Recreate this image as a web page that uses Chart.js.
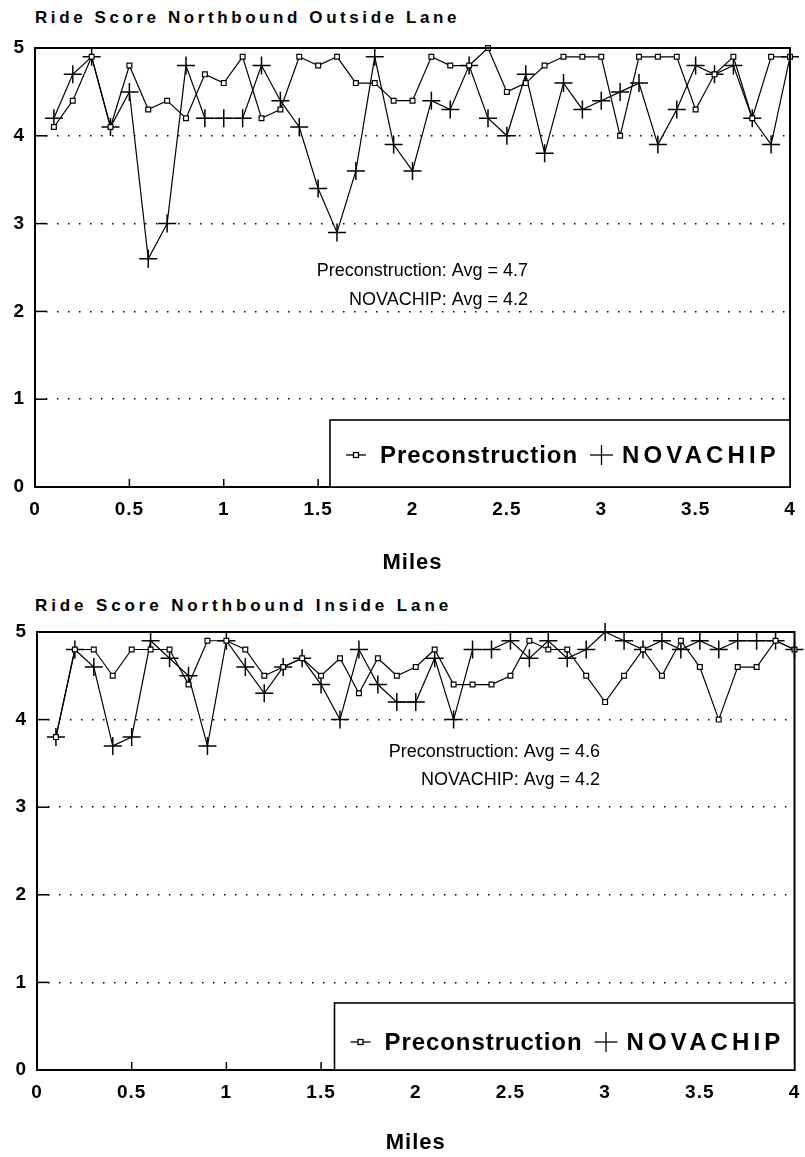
<!DOCTYPE html>
<html>
<head>
<meta charset="utf-8">
<script src="https://cdn.jsdelivr.net/npm/chart.js@4.4.1/dist/chart.umd.min.js"></script>
<style>
  body { margin: 0; background: #fff; width: 805px; height: 1157px; position: relative; overflow: hidden; }
  .title { position: absolute; left: 35px; font: bold 17px "Liberation Sans", Arial, sans-serif; color: #000; white-space: nowrap; }
  .wrap { position: absolute; left: 0; width: 805px; }
</style>
</head>
<body>
<div class="title" id="t1" style="top:8px">Ride Score Northbound Outside Lane</div>
<div class="wrap" style="top:0;height:580px"><canvas id="outside"></canvas></div>
<div class="title" id="t2" style="top:596px">Ride Score Northbound Inside Lane</div>
<div class="wrap" style="top:580px;height:577px"><canvas id="inside"></canvas></div>
<script>
// station miles (every 0.1 mi)
const miles = [0.1, 0.2, 0.3, 0.4, 0.5, 0.6, 0.7, 0.8, 0.9, 1.0,
  1.1, 1.2, 1.3, 1.4, 1.5, 1.6, 1.7, 1.8, 1.9, 2.0,
  2.1, 2.2, 2.3, 2.4, 2.5, 2.6, 2.7, 2.8, 2.9, 3.0,
  3.1, 3.2, 3.3, 3.4, 3.5, 3.6, 3.7, 3.8, 3.9, 4.0]

// outside lane
const outsidePre = [4.1, 4.4, 4.9, 4.1, 4.8, 4.3, 4.4, 4.2, 4.7, 4.6,
  4.9, 4.2, 4.3, 4.9, 4.8, 4.9, 4.6, 4.6, 4.4, 4.4,
  4.9, 4.8, 4.8, 5.0, 4.5, 4.6, 4.8, 4.9, 4.9, 4.9,
  4.0, 4.9, 4.9, 4.9, 4.3, 4.7, 4.9, 4.2, 4.9, 4.9]
const outsideNova = [4.2, 4.7, 4.9, 4.1, 4.5, 2.6, 3.0, 4.8, 4.2, 4.2,
  4.2, 4.8, 4.4, 4.1, 3.4, 2.9, 3.6, 4.9, 3.9, 3.6,
  4.4, 4.3, 4.8, 4.2, 4.0, 4.7, 3.8, 4.6, 4.3, 4.4,
  4.5, 4.6, 3.9, 4.3, 4.8, 4.7, 4.8, 4.2, 3.9, 4.9]

// inside lane
const insidePre = [3.8, 4.8, 4.8, 4.5, 4.8, 4.8, 4.8, 4.4, 4.9, 4.9,
  4.8, 4.5, 4.6, 4.7, 4.5, 4.7, 4.3, 4.7, 4.5, 4.6,
  4.8, 4.4, 4.4, 4.4, 4.5, 4.9, 4.8, 4.8, 4.5, 4.2,
  4.5, 4.8, 4.5, 4.9, 4.6, 4.0, 4.6, 4.6, 4.9, 4.8]
const insideNova = [3.8, 4.8, 4.6, 3.7, 3.8, 4.9, 4.7, 4.5, 3.7, 4.9,
  4.6, 4.3, 4.6, 4.7, 4.4, 4.0, 4.8, 4.4, 4.2, 4.2,
  4.7, 4.0, 4.8, 4.8, 4.9, 4.7, 4.9, 4.7, 4.8, 5.0,
  4.9, 4.8, 4.9, 4.8, 4.9, 4.8, 4.9, 4.9, 4.9, 4.8]

const seriesNames = ['Preconstruction', 'NOVACHIP']
const outsideNotes = ['Preconstruction: Avg = 4.7', 'NOVACHIP: Avg = 4.2']
const insideNotes = ['Preconstruction: Avg = 4.6', 'NOVACHIP: Avg = 4.2']

const FONT = '"Liberation Sans", Arial, sans-serif'

// stretch title text to the width it has in the scan
function spreadTitle(id, width) {
  const el = document.getElementById(id)
  const w = el.getBoundingClientRect().width
  el.style.letterSpacing = ((width - w) / el.textContent.length) + 'px'
}
spreadTitle('t1', 425)
spreadTitle('t2', 417)

function fitText(ctx, text, x, y, width) {
  ctx.letterSpacing = '0px'
  const w = ctx.measureText(text).width
  ctx.letterSpacing = ((width - w) / text.length) + 'px'
  ctx.fillText(text, x, y)
  ctx.letterSpacing = '0px'
}

function seg(ctx, x1, y1, x2, y2) {
  ctx.beginPath()
  ctx.moveTo(x1, y1)
  ctx.lineTo(x2, y2)
  ctx.stroke()
}

const framePlugin = {
  id: 'frame',
  beforeDraw(chart) {
    chart.ctx.letterSpacing = '1px'
  },
  afterDraw(chart, args, opts) {
    const {ctx, chartArea: a, scales: {x, y}} = chart
    ctx.save()
    ctx.letterSpacing = '0px'
    ctx.strokeStyle = '#000'
    ctx.fillStyle = '#000'

    // little inside ticks
    ctx.lineWidth = 1.5
    x.ticks.forEach(t => {
      if (t.value > x.min && t.value < x.max) {
        const px = x.getPixelForValue(t.value)
        seg(ctx, px, a.bottom, px, a.bottom - 8)
      }
    })
    y.ticks.forEach(t => {
      if (t.value > y.min && t.value < y.max) {
        const py = y.getPixelForValue(t.value)
        seg(ctx, a.left, py, a.left + 12, py)
      }
    })

    // frame
    ctx.lineWidth = 2
    ctx.strokeRect(a.left, a.top, a.right - a.left, a.bottom - a.top)

    // averages
    ctx.font = '18px ' + FONT
    ctx.textAlign = 'right'
    ctx.textBaseline = 'middle'
    opts.notes.forEach((n, i) => ctx.fillText(n, opts.noteX, opts.noteY[i]))

    // legend box
    const L = a.right - 460
    const top = a.bottom - 67
    ctx.fillStyle = '#fff'
    ctx.fillRect(L, top, a.right - L, a.bottom - top)
    ctx.lineWidth = 1.6
    ctx.strokeRect(L, top, a.right - L, a.bottom - top)
    const ly = opts.legendY
    ctx.lineWidth = 1.3
    seg(ctx, L + 16, ly, L + 36, ly)
    ctx.fillStyle = '#fff'
    ctx.fillRect(L + 23.5, ly - 2.5, 5, 5)
    ctx.strokeRect(L + 23.5, ly - 2.5, 5, 5)
    seg(ctx, L + 260, ly, L + 283, ly)
    seg(ctx, L + 271.5, ly - 10, L + 271.5, ly + 10)
    ctx.fillStyle = '#000'
    ctx.font = 'bold 24px ' + FONT
    ctx.textAlign = 'left'
    fitText(ctx, seriesNames[0], L + 50, ly + 1, 198)
    fitText(ctx, seriesNames[1], L + 292, ly + 1, 158)
    ctx.restore()
  }
}

function makeChart(id, pre, nova, lay) {
  return new Chart(document.getElementById(id), {
    type: 'line',
    data: {
      datasets: [
        {
          label: seriesNames[0],
          data: miles.map((m, i) => ({x: m, y: pre[i]})),
          borderColor: '#000',
          borderWidth: 1.2,
          pointStyle: 'rect',
          pointRadius: 3.4,
          pointBackgroundColor: '#fff',
          pointBorderColor: '#000',
          pointBorderWidth: 1.2,
          tension: 0,
          clip: false
        },
        {
          label: seriesNames[1],
          data: miles.map((m, i) => ({x: m, y: nova[i]})),
          borderColor: '#000',
          borderWidth: 1.2,
          pointStyle: 'cross',
          pointRadius: 9,
          pointBorderColor: '#000',
          pointBorderWidth: 1.5,
          tension: 0,
          clip: false
        }
      ]
    },
    options: {
      responsive: true,
      maintainAspectRatio: false,
      animation: false,
      layout: {padding: {top: lay.top, right: lay.right, bottom: 0, left: 0}},
      scales: {
        x: {
          type: 'linear',
          min: 0,
          max: 4,
          ticks: {stepSize: 0.5, color: '#000', padding: 0, maxRotation: 0,
            callback: v => String(v),
            font: {family: FONT, size: 19, weight: 'bold'}},
          // tick marks are drawn inside by the frame plugin; tickLength only spaces the labels
          grid: {display: false, drawTicks: true, tickLength: 11},
          border: {display: false},
          title: {display: true, text: 'Miles', color: '#000', padding: {top: 0, bottom: lay.milesPad},
            font: {family: FONT, size: 22, weight: 'bold'}},
          afterFit: s => { s.height = lay.xh }
        },
        y: {
          min: 0,
          max: 5,
          ticks: {stepSize: 1, color: '#000', padding: 10,
            font: {family: FONT, size: 19, weight: 'bold'}},
          grid: {
            drawTicks: false,
            lineWidth: 1.5,
            color: c => (c.tick.value === 0 || c.tick.value === 5) ? 'rgba(0,0,0,0)' : '#000'
          },
          border: {display: false, dash: [1.5, 9.5]},
          afterFit: s => { s.width = lay.yw }
        }
      },
      plugins: {
        legend: {display: false},
        tooltip: {enabled: false},
        frame: {notes: lay.notes, noteX: lay.noteX, noteY: lay.noteY, legendY: lay.legendY}
      }
    },
    plugins: [framePlugin]
  })
}

makeChart('outside', outsidePre, outsideNova, {
  top: 48, right: 15, yw: 35, xh: 93, milesPad: 4,
  notes: outsideNotes, noteX: 528, noteY: [271, 300], legendY: 455
})
makeChart('inside', insidePre, insideNova, {
  top: 52, right: 10, yw: 37, xh: 87, milesPad: 1,
  notes: insideNotes, noteX: 600, noteY: [172, 200], legendY: 462
})
</script>
</body>
</html>
